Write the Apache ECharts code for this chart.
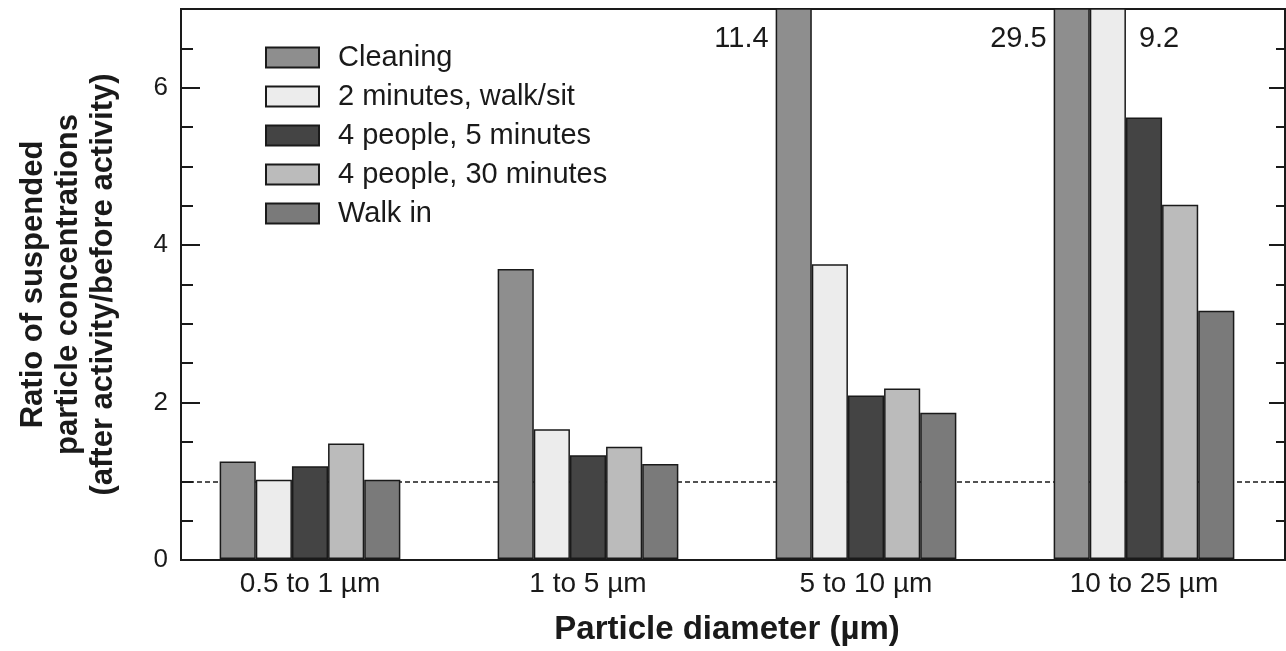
<!DOCTYPE html>
<html>
<head>
<meta charset="utf-8">
<script src="https://cdn.jsdelivr.net/npm/echarts@6/dist/echarts.min.js"></script>
<style>
  html, body { margin: 0; padding: 0; background: #fff; }
  #chart { width: 1286px; height: 651px; }
</style>
</head>
<body>
<div id="chart"></div>
<script>
// particle size classes
const categories = ['0.5 to 1 µm', '1 to 5 µm', '5 to 10 µm', '10 to 25 µm'];

// ratio after/before activity, one array per activity
const cleaning = [1.24, 3.69, 11.4, 29.5];
const walkSit2min = [1.01, 1.65, 3.75, 9.2];
const people4min5 = [1.18, 1.32, 2.08, 5.62];
const people4min30 = [1.47, 1.43, 2.17, 4.51];
const walkIn = [1.01, 1.21, 1.86, 3.16];

const seriesNames = ['Cleaning', '2 minutes, walk/sit', '4 people, 5 minutes', '4 people, 30 minutes', 'Walk in'];
const seriesValues = [cleaning, walkSit2min, people4min5, people4min30, walkIn];

const yTicks = [0, 2, 4, 6];
const yMax = 7;
const baseline = 1;

const colors = ['#8e8e8e', '#ececec', '#444444', '#bbbbbb', '#7a7a7a'];
// where the value label of a bar cut off at the top goes
const cutLabelSide = ['left', 'right', 'right', 'right', 'right'];

const font = 'Liberation Sans, Arial, sans-serif';
const ink = '#1a1a1a';

const chart = echarts.init(document.getElementById('chart'));

function barData(values, side) {
    return values.map(v => {
        if (v <= yMax) return v;
        return {
            value: v,
            label: {
                show: true,
                position: side === 'left' ? [0, 31] : ['100%', 31],
                align: side === 'left' ? 'right' : 'left',
                verticalAlign: 'middle',
                offset: side === 'left' ? [-7, 0] : [13, 0],
                formatter: String(v),
                fontSize: 29,
                fontFamily: font,
                color: ink
            }
        };
    });
}

const frame = { left: 181, right: 1, top: 9, bottom: 91 };

const series = seriesNames.map((name, i) => ({
    name: name,
    type: 'bar',
    xAxisIndex: 2,
    yAxisIndex: 4,
    z: 2,
    barGap: '0%',
    barCategoryGap: '35%',
    itemStyle: { color: colors[i], borderColor: ink, borderWidth: 1.5 },
    label: { show: false },
    data: barData(seriesValues[i], cutLabelSide[i])
}));

// dashed reference line at ratio = 1
series.push({
    type: 'line',
    xAxisIndex: 0,
    yAxisIndex: 0,
    z: 1,
    data: [],
    markLine: {
        silent: true,
        z: 1,
        symbol: 'none',
        label: { show: false },
        lineStyle: { color: ink, width: 1.5, type: [5, 3] },
        data: [{ yAxis: baseline }]
    }
});

const yScale = { type: 'value', min: 0, max: yMax, splitLine: { show: false } };

const options = {
    animation: false,
    textStyle: { fontFamily: font },
    legend: {
        orient: 'vertical',
        left: 265,
        top: 43,
        padding: 0,
        itemWidth: 53,
        itemHeight: 20,
        itemGap: 10,
        icon: 'rect',
        data: seriesNames,
        textStyle: { fontSize: 29, lineHeight: 29, color: ink, fontFamily: font, padding: [0, 0, 0, 14] }
    },
    grid: [
        Object.assign({ show: true, borderColor: ink, borderWidth: 2 }, frame),
        Object.assign({}, frame),
        { left: 171, right: 3, top: 9, bottom: 91 }
    ],
    xAxis: [
        { gridIndex: 0, type: 'category', data: categories, show: false },
        { gridIndex: 1, type: 'category', data: categories, show: false },
        {
            gridIndex: 2,
            type: 'category',
            data: categories,
            axisLine: { show: false },
            axisTick: { show: false },
            axisLabel: { fontSize: 28, color: ink, margin: 11, fontFamily: font },
            name: 'Particle diameter (µm)',
            nameLocation: 'middle',
            nameGap: 54,
            nameTextStyle: { fontSize: 33, fontWeight: 'bold', color: ink, fontFamily: font }
        }
    ],
    yAxis: [
        Object.assign({}, yScale, {
            gridIndex: 0,
            position: 'left',
            interval: 2,
            axisLine: { show: true, lineStyle: { color: ink, width: 2 } },
            axisTick: { show: true, inside: true, length: 19, lineStyle: { color: ink, width: 2 } },
            axisLabel: {
                fontSize: 26, color: ink, margin: 13, fontFamily: font, showMaxLabel: false,
                formatter: v => (yTicks.indexOf(v) >= 0 ? String(v) : '')
            },
            name: 'Ratio of suspended\nparticle concentrations\n(after activity/before activity)',
            nameLocation: 'middle',
            nameRotate: 90,
            nameGap: 60,
            nameTextStyle: { fontSize: 31, fontWeight: 'bold', color: ink, lineHeight: 35, fontFamily: font }
        }),
        Object.assign({}, yScale, {
            gridIndex: 0,
            position: 'right',
            interval: 2,
            axisLine: { show: true, lineStyle: { color: ink, width: 2 } },
            axisTick: { show: true, inside: true, length: 16, lineStyle: { color: ink, width: 2 } },
            axisLabel: { show: false }
        }),
        Object.assign({}, yScale, {
            gridIndex: 1,
            position: 'left',
            interval: 0.5,
            axisLine: { show: false },
            axisTick: { show: true, inside: true, length: 12, lineStyle: { color: ink, width: 2 } },
            axisLabel: { show: false }
        }),
        Object.assign({}, yScale, {
            gridIndex: 1,
            position: 'right',
            interval: 0.5,
            axisLine: { show: false },
            axisTick: { show: true, inside: true, length: 9, lineStyle: { color: ink, width: 2 } },
            axisLabel: { show: false }
        }),
        Object.assign({}, yScale, { gridIndex: 2, show: false })
    ],
    series: series
};

chart.setOption(options);
</script>
</body>
</html>
